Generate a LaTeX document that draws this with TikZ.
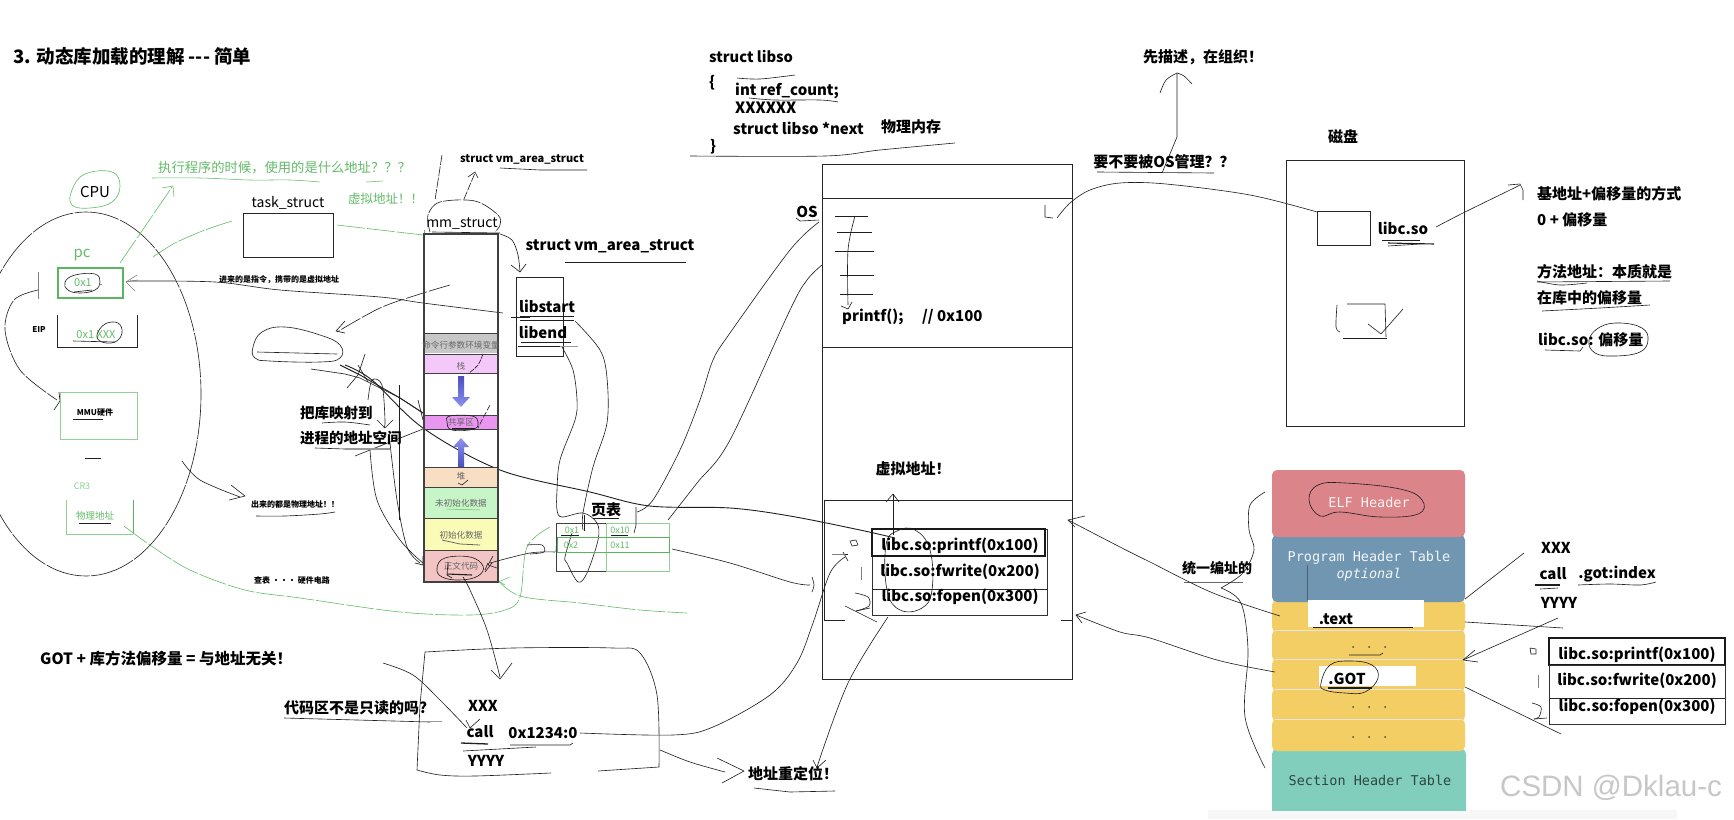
\documentclass[tikz,border=0pt]{standalone}
\usepackage{fontspec}
\setmainfont{Noto Sans CJK SC}
\newfontfamily\monofam{DejaVu Sans Mono}
\newfontfamily\wmfam{Liberation Sans}
\usetikzlibrary{calc}
\definecolor{inkgreen}{HTML}{63BB68}
\definecolor{boxgreen}{HTML}{5BB560}
\definecolor{palegreen}{HTML}{8FD093}
\definecolor{elfred}{HTML}{DB8489}
\definecolor{phtblue}{HTML}{7196B2}
\definecolor{secyel}{HTML}{F2CE65}
\definecolor{shtteal}{HTML}{82CEBD}
\definecolor{arrowdark}{HTML}{4A4EC0}
\definecolor{arrowlight}{HTML}{8C92EE}
\newcommand\sz[1]{\fontsize{#1}{#1}\selectfont}
% a freehand stroke through a list of points
\newcommand\ink[2][]{\draw[hand,#1] plot[smooth,tension=.55] coordinates {#2};}
% a closed freehand loop through a list of points
\newcommand\ring[2][]{\draw[hand,#1] plot[smooth cycle,tension=.7] coordinates {#2};}
% a straight polyline, for tips and short pen marks
\newcommand\pen[2][]{\draw[hand,line join=round,#1] plot coordinates {#2};}
\tikzset{
  hand/.style={line width=.62pt,black!88},
  greenhand/.style={line width=.6pt,inkgreen,dash pattern=on 28pt off 2pt},
  frameline/.style={line width=.9pt,black!85},
  blk/.style={inner sep=0,font=\bfseries\sz{15}},
  blkl/.style={blk,anchor=west},
  tiny/.style={inner sep=0,font=\bfseries\sz{8}},
  grn/.style={inner sep=0,text=inkgreen,font=\sz{13.3}},
  seglabel/.style={inner sep=0,text=black!60,font=\sz{8.6}},
  elfcell/.style={inner sep=0,font=\monofam\sz{13.5}},
  secblock/.style={fill=#1,rounded corners=5pt,draw=none},
}
\begin{document}
\begin{tikzpicture}[x=1pt,y=-1pt]
\useasboundingbox (0,0) rectangle (1734,819);
\fill[white] (0,0) rectangle (1734,819);
\fill[black!3] (1208,810) rectangle (1677,819);

%% ---- headings ----
\node[inner sep=0,anchor=west,font=\bfseries\sz{18.5}] (title) at (13,56) {3. 动态库加载的理解 -{}-{}- 简单};
\node[blkl,font=\bfseries\sz{15.5}] (gotnote) at (40,659) {GOT + 库方法偏移量 = 与地址无关！};

%% ---- CPU side ----
\draw[hand,dash pattern=on 45pt off 1.5pt] (86,394) ellipse [x radius=115,y radius=182];
\node[inner sep=0,font=\sz{15}] (cpu) at (95,192) {CPU};
\ring[inkgreen]{(72,190)(85,174)(112,172)(120,186)(112,202)(90,208)(72,205)}
\node[inner sep=0,text=inkgreen,font=\sz{15}] (pc) at (82,255) {pc};
\node[draw=boxgreen,line width=2.4pt,minimum width=65pt,minimum height=30pt,inner sep=0] (pcbox) at (90.5,283) {};
\node[inner sep=0,text=inkgreen,font=\sz{11}] (pcval) at (83,283) {0x1};
\ring{(65,282)(75,275)(95,274)(100,282)(95,290)(80,293)(68,290)}
\pen{(74,292)(92,290)}
\pen[black!40]{(100,284)(102,284)}
\pen[black!50]{(38,272)(38,299)}
\ink[dash pattern=on 26pt off 1.5pt]{(38,290)(14,300)(5,330)(20,370)(57,400)}
\pen{(59,392)(60,401)(54,410)}
\node[tiny] (eip) at (39,330) {EIP};
\draw[frameline] (57,315) -- (57,347) -- (137,347) -- (137,315);
\node[inner sep=0,text=inkgreen,font=\sz{11}] (eipval) at (96,335) {0x1 XXX};
\ring{(97,335)(105,324)(118,323)(122,333)(115,342)(102,342)}
\pen{(73,341)(115,342)}
\draw[palegreen,line width=1pt] (60,392) rectangle (137,439);
\node[tiny] (mmu) at (95,412) {MMU硬件};
\pen{(73,419)(103,419)}
\pen{(85,458)(101,458)}
\node[inner sep=0,text=palegreen,font=\sz{9}] (cr3) at (82,486) {CR3};
\draw[palegreen,line width=1pt] (66,500) -- (66,534) -- (133,534);
\draw[boxgreen,line width=.9pt] (133,534) -- (133,500);
\node[inner sep=0,text=inkgreen,font=\sz{9.5}] (phys) at (95,516) {物理地址};
\pen{(79,523)(111,523)}

% green notes and their strokes
\node[grn,anchor=west] (whichaddr) at (158,168) {执行程序的时候，使用的是什么地址？？？};
\node[grn,anchor=west,font=\sz{12.5}] (virtaddr) at (348,199) {虚拟地址！！};
\ink[inkgreen,line width=.55pt]{(152,178)(200,178)(250,180)(290,180)(320,182)}
\pen[inkgreen,line width=.55pt]{(366,182)(383,181)}
\pen[greenhand]{(120,263)(172,187)}
\pen[inkgreen,line width=.55pt]{(162,188)(173,186)(174,197)}
\ink[greenhand]{(153,257)(175,243)(205,230)(232,221)}
\ink[greenhand]{(337,225)(380,230)(423,235)}
\pen[inkgreen,line width=.55pt]{(424,230)(424,238)}
\ink[greenhand]{(124,526)(150,545)(190,570)(245,590)(300,598)(400,612)(470,615)(505,610)(520,597)(527,547)(550,527)}
\ink[greenhand]{(495,577)(520,596)(580,603)(640,610)(687,613)}
\pen[inkgreen,line width=.5pt]{(495,565)(497,580)(505,585)}
\pen[inkgreen,line width=.5pt]{(498,582)(510,577)}

% task_struct
\node[frameline,draw,minimum width=90pt,minimum height=44pt,inner sep=0] (task) at (288,235) {};
\node[inner sep=0,font=\sz{14}] (tasklabel) at (288,203) {task\_struct};

% pointer note
\node[tiny] (incoming) at (279,280) {进来的是指令，携带的是虚拟地址};
\ink{(130,281)(215,282)(280,290)(380,297)(423,303)(503,313)}
\pen{(530,317)(511,317)}
\pen[black!50]{(137,275)(126,282)(135,291)}
\pen[black!50]{(126,282)(138,280)}
\ink[dash pattern=on 22pt off 2pt]{(450,285)(420,294)(380,308)(337,332)}
\pen{(345,321)(336,331)(345,333)}

% small blob and converging pen strokes
\ring{(253,347)(262,332)(285,327)(320,335)(340,345)(340,358)(320,362)(270,361)(255,358)}
\pen{(257,352)(337,354)}
\ink[line width=.9pt]{(345,365)(372,380)(423,428)(500,470)(590,492)(650,506)(730,508)(790,516)(860,530)(895,538)}
\pen{(311,369)(345,374)(360,378)(400,398)(423,413)}
\pen[line width=.9pt]{(340,365)(360,375)(400,398)(423,413)}
\pen{(365,354)(358,375)(347,388)}
\pen{(358,365)(368,382)}
\ink{(418,400)(420,408)(423,420)}
\ink{(368,400)(372,380)(382,385)(385,420)(384,428)}
\pen{(377,420)(385,428)(393,420)}
\pen{(399,385)(399,520)}
\ink{(370,450)(377,500)(400,540)(423,563)}
\ink{(390,443)(397,500)(407,547)(420,563)}
\pen{(415,563)(423,565)(423,556)}
\pen{(355,456)(375,448)(423,429)}
\node[blkl,font=\bfseries\sz{14.5}] (maplib) at (300,413) {把库映射到};
\node[blkl,font=\bfseries\sz{14.5}] (mapspace) at (300,438) {进程的地址空间};
\ink{(322,423)(345,422)(370,425)}
\pen{(315,448)(345,449)}
\pen[black!40,line width=1.2pt]{(345,449)(390,449)}

%% ---- other small notes ----
\node[tiny] (allphys) at (295,504) {出来的都是物理地址！！};
\ink{(256,516)(285,516)(320,514)(335,512)}
\ink{(182,461)(200,480)(240,497)}
\pen{(231,485)(245,496)(229,500)}
\node[tiny] (lookup) at (292,580) {查表 ··· 硬件电路};

%% ---- process address space column ----
\foreach \ya/\yb/\tone in {333/353/black!22, 354/373/{rgb,255:red,245;green,200;blue,250}, 415/429/{rgb,255:red,232;green,150;blue,240}, 467/487/{rgb,255:red,248;green,223;blue,196}, 487/518/{rgb,255:red,200;green,245;blue,200}, 518/550/{rgb,255:red,251;green,251;blue,184}, 550/582/{rgb,255:red,242;green,196;blue,196}}{
  \fill[color=\tone] (424,\ya) rectangle (498,\yb);
}
\draw[black!75,line width=1.1pt] (424,234) rectangle (498,582);
\foreach \yy in {333,354,373,415,429,467,487,518,550}{\draw[black!75,line width=1pt] (424,\yy) -- (498,\yy);}
\node[seglabel] (seg1) at (461,345) {命令行参数环境变量};
\node[seglabel] (seg2) at (461,366) {栈};
\node[seglabel] (seg3) at (461,422) {共享区};
\node[seglabel] (seg4) at (461,476) {堆};
\node[seglabel] (seg5) at (461,503) {未初始化数据};
\node[seglabel] (seg6) at (461,535) {初始化数据};
\node[seglabel] (seg7) at (461,566) {正文代码};
\shade[top color=arrowdark,bottom color=arrowlight] (458,376) -- (464,376) -- (464,397) -- (470,397) -- (461,407) -- (452,397) -- (458,397) -- cycle;
\shade[top color=arrowlight,bottom color=arrowdark] (458,467) -- (464,467) -- (464,447) -- (469,447) -- (461,438) -- (453,447) -- (458,447) -- cycle;
% marks over the segments
\ink[dash pattern=on 5pt off 1pt]{(483,354)(478,365)(469,373)}
\ink[dash pattern=on 6pt off 2pt]{(490,405)(482,420)(478,428)}
\ring{(447,422)(450,416)(472,416)(478,422)(474,429)(452,430)}
\pen{(452,428)(475,428)}
\pen{(458,483)(462,485)(468,480)}
\pen[inkgreen,line width=.5pt]{(447,509)(480,510)}
\pen[black!60,line width=.8pt]{(442,540)(460,544)(480,545)}
\ring{(437,568)(445,558)(470,557)(483,566)(478,576)(460,580)(442,577)}
\pen[line width=1.1pt]{(447,574)(472,575)}
\pen{(448,562)(447,575)(452,578)}
\pen{(488,563)(485,570)}
\pen{(485,572)(492,563)}

% mm_struct
\node[inner sep=0,font=\sz{14}] (mm) at (462,224) {mm\_struct};
\ink[dash pattern=on 18pt off 1.5pt]{(430,232)(428,215)(440,202)(475,201)(498,215)(500,225)(495,232)}
\pen{(432,232)(500,233)}
\pen[dash pattern=on 10pt off 1.5pt]{(442,155)(435,200)}
\pen[dash pattern=on 8pt off 1.5pt]{(464,199)(475,173)}
\pen{(468,177)(475,172)(478,178)}
\node[inner sep=0,font=\bfseries\sz{11}] (vmsmall) at (522,159) {struct vm\_area\_struct};
\pen{(500,168)(540,170)(587,170)}
\node[blk] (vmbig) at (610,246) {struct vm\_area\_struct};
\pen{(565,262)(686,262)}
\ink{(500,234)(512,240)(518,255)(520,272)}
\pen{(511,265)(520,272)(526,264)}

% libstart / libend
\node[frameline,draw,minimum width=47pt,minimum height=79pt,inner sep=0] (vmbox) at (539.5,316.5) {};
\node[blk] (libstart) at (547,306) {libstart};
\node[blk] (libend) at (543,332) {libend};
\pen{(520,316)(574,316)}
\pen{(520,320)(574,320)}
\pen{(521,342)(571,342)}
\pen{(518,346)(560,346)}
\pen[black!40,line width=1pt]{(560,346)(578,346)}
\ink{(575,321)(600,350)(607,378)(607,423)(593,467)(583,513)(583,530)}
\ink{(562,347)(573,370)(577,400)(575,420)(560,460)(557,490)(557,510)(562,517)(583,513)(597,523)(598,540)(587,573)(578,582)(567,563)(565,557)(572,533)}

%% ---- page table ----
\node[inner sep=0,font=\bfseries\sz{15}] (pagetable) at (606,510) {页表};
\pen{(593,518)(619,518)}
\draw[palegreen,line width=.9pt] (606,523) -- (669,523) -- (669,571) -- (606,571);
\draw[black!75,line width=.8pt] (606,523) -- (556,523) -- (556,571) -- (606,571);
\draw[palegreen,line width=.9pt] (606,523) -- (606,571);
\draw[boxgreen,line width=.9pt] (557,537) rectangle (669,552);
\draw[black!70,line width=.8pt] (556,552) -- (557,537);
\node[inner sep=0,text=inkgreen,font=\sz{9}] (pt1) at (572,530) {0x1};
\node[inner sep=0,text=inkgreen,font=\sz{9}] (pt2) at (620,530) {0x10};
\node[inner sep=0,text=inkgreen,font=\sz{9}] (pt3) at (571,545) {0x2};
\node[inner sep=0,text=inkgreen,font=\sz{9}] (pt4) at (620,545) {0x11};
\pen{(561,535)(579,535)}
\pen{(611,535)(628,535)}
\pen{(584,515)(584,531)}
\pen{(636,507)(636,525)(634,533)}
\ink{(637,512)(653,500)(680,450)(700,400)(713,360)(730,333)(790,250)(819,222)}
\ink{(668,520)(697,483)(730,440)(790,310)(807,280)(822,265)}
\ink{(672,549)(730,563)(790,582)(810,585)}
\ink{(812,577)(814,585)(812,592)}
\ink{(555,552)(530,553)(490,563)}
\pen{(493,556)(488,565)(497,568)}
\ink{(527,545)(542,545)(544,552)(530,554)}

% from the code segment down to the call site
\ink{(463,577)(470,590)(487,630)(500,677)}
\pen{(491,670)(500,679)(512,663)}

%% ---- code snippet ----
\ink{(425,652)(513,648)(613,648)(640,653)(657,695)(659,767)}
\pen{(659,767)(598,771)}
\pen{(425,652)(420,705)(417,770)}
\ink{(417,770)(440,775)(475,776)(551,773)}
\node[blk] (xxx) at (483,706) {XXX};
\node[blk] (callA) at (480,732) {call};
\node[blk] (addr) at (543,733) {0x1234:0};
\node[blk] (yyyy) at (486,761) {YYYY};
\pen[line width=1.3pt]{(461,743)(488,744)}
\pen{(463,751)(536,747)}
\pen{(510,745)(570,745)(573,743)}
\node[blkl,font=\bfseries\sz{15}] (readonly) at (284,708) {代码区不是只读的吗?};
\pen{(284,718)(430,722)}
\pen[black!40]{(420,721)(442,721)}
\ink{(383,663)(413,675)(440,700)(467,728)}
\pen{(466,720)(470,728)(480,719)}
\ink{(580,733)(673,735)(713,727)(770,695)(797,663)(813,623)(830,573)(845,557)}
\pen{(832,554)(848,554)}
\pen{(843,552)(848,561)}
\node[blk] (reloc) at (793,774) {地址重定位！};
\pen{(754,788)(790,792)(835,791)}
\ink{(660,750)(690,762)(725,772)}
\pen{(717,758)(744,771)(722,783)}
\ink{(888,617)(848,683)(817,767)}
\pen{(813,760)(817,768)(826,760)}

%% ---- libso description ----
\node[blkl,font=\bfseries\sz{14.7}] (libso) at (709,56) {struct libso};
\node[blkl] (lbrace) at (709,83) {\{};
\node[blkl] (refc) at (735,91) {int ref\_count;};
\node[blkl,font=\bfseries\sz{15.5}] (xs) at (735,108) {XXXXXX};
\node[blkl] (nextp) at (733,128) {struct libso *next};
\node[blk] (physmem) at (911,127) {物理内存};
\node[blkl] (rbrace) at (710,147) {\}};
\ink{(737,78)(760,79)(795,75)}
\ink{(749,98)(775,100)(820,100)(838,102)}
\ink{(690,156)(825,156)(880,150)(955,143)}

%% ---- physical memory frame ----
\draw[frameline] (822,164) rectangle (1072,679);
\draw[frameline] (822,198) -- (1072,198);
\draw[frameline] (822,347) -- (1072,347);
\draw[frameline] (824,620) -- (824,500) -- (1072,500);
\draw[frameline] (824,620) -- (845,620);
\draw[frameline] (1061,620) -- (1072,620);
\node[blk] (os) at (807,212) {OS};
\pen{(796,218)(800,221)(819,220)}
\foreach \xa/\xb/\yy in {835/868/216,837/872/232,835/874/251,840/874/275,840/873/294}{\draw[hand] (\xa,\yy) -- (\xb,\yy);}
\ink{(855,216)(848,250)(848,305)}
\pen{(841,306)(848,309)(852,302)}
\node[blkl] (printfcall) at (842,317) {printf();\hspace{1em} // 0x100};
\node[blk] (vlabel) at (913,469) {虚拟地址！};
\pen{(893,535)(893,494)}
\pen{(886,502)(893,494)(899,502)}

% library method table in memory
\draw[black!80,line width=1pt] (872,529) rectangle (1047,615);
\draw[black!90,line width=1.2pt] (872,529) rectangle (1045,556);
\draw[black!85,line width=.8pt] (872,589) -- (1047,589);
\node[blk] (m1) at (960,546) {libc.so:printf(0x100)};
\node[blk] (m2) at (960,572) {libc.so:fwrite(0x200)};
\node[blk] (m3) at (960,597) {libc.so:fopen(0x300)};
\ring{(886,545)(897,531)(915,530)(930,550)(932,590)(922,608)(900,610)(887,590)}
\pen{(850,541)(856,540)(858,545)(852,546)(850,541)}
\pen[black!50]{(832,554)(845,554)}
\pen[black!50]{(861,567)(861,580)}
\ink{(855,593)(868,597)(869,606)(856,611)}
\pen{(845,606)(877,622)}
\pen{(856,611)(870,608)}

%% ---- OS management note ----
\node[blk] (orgnote) at (1203,57) {先描述，在组织！};
\pen{(1177,73)(1177,137)(1162,173)}
\ink{(1160,93)(1166,80)(1177,73)}
\ink{(1177,73)(1184,76)(1192,84)}
\node[blk] (manage) at (1164,162) {要不要被OS管理？？};
\pen{(1097,172)(1214,173)}
\ink{(1057,218)(1070,203)(1090,190)(1120,183)(1166,184)(1250,195)(1317,212)}
\pen{(1045,205)(1045,217)(1053,218)}

%% ---- disk ----
\node[blk] (disklabel) at (1343,137) {磁盘};
\node[frameline,draw,minimum width=178pt,minimum height=266pt,inner sep=0] (disk) at (1375,293) {};
\node[frameline,draw,minimum width=53pt,minimum height=34pt,inner sep=0] (libfile) at (1343.5,228) {};
\node[blk] (libcso) at (1403,228) {libc.so};
\pen{(1382,240)(1420,240)}
\pen[line width=1.1pt]{(1388,243)(1434,244)}
\pen{(1388,246)(1420,244)}
\ink{(1436,227)(1463,213)(1510,190)(1520,185)}
\pen{(1508,185)(1520,184)(1523,190)(1523,200)}
\ink{(1337,305)(1336,327)(1340,332)}
\pen{(1347,304)(1385,304)(1386,337)}
\pen{(1343,338)(1387,338)}
\pen{(1368,324)(1381,334)(1403,309)}

% address notes
\node[blkl] (base) at (1537,194) {基地址+偏移量的方式};
\node[blkl] (zero) at (1537,220) {0 + 偏移量};
\node[blkl] (method) at (1537,272) {方法地址：本质就是};
\node[blkl] (inlib) at (1537,298) {在库中的偏移量};
\node[blkl] (offs) at (1538,340) {libc.so: 偏移量};
\ink{(1537,281)(1560,285)(1587,283)}
\pen{(1537,282)(1670,281)}
\ink{(1542,311)(1600,308)(1650,305)}
\pen{(1545,350)(1580,351)(1583,347)}
\ring{(1589,340)(1600,327)(1620,323)(1642,328)(1648,340)(1640,352)(1615,356)(1595,353)}

%% ---- ELF layout ----
\fill[secblock=shtteal] (1272,749) rectangle (1466,815);
\fill[white] (1272,811) rectangle (1466,820);
\fill[black!3] (1272,811) rectangle (1466,819);
\fill[secblock=secyel] (1272,719) rectangle (1465,751);
\fill[secblock=secyel] (1272,689) rectangle (1465,721);
\fill[secblock=secyel] (1272,659) rectangle (1465,691);
\fill[secblock=secyel] (1272,630) rectangle (1465,661);
\fill[secblock=secyel] (1272,600) rectangle (1465,632);
\fill[secblock=phtblue] (1272,535) rectangle (1465,602);
\fill[secblock=elfred] (1272,470) rectangle (1465,537);
\foreach \yy in {630,659,689,719}{\draw[black!10,line width=.6pt] (1275,\yy) -- (1462,\yy);}
\node[elfcell,text=white!90!elfred] (elf) at (1369,502) {ELF Header};
\node[elfcell,text=white!90!phtblue] (pht) at (1369,558) {Program Header Table};
\node[elfcell,text=white!90!phtblue,font=\monofam\itshape\sz{13.5}] (phtopt) at (1369,575) {optional};
\node[elfcell,text=black!65!shtteal] (sht) at (1370,780) {Section Header Table};
\foreach \yy in {647,707,737}{
  \foreach \xx in {1353,1369,1385}{\fill[black!70] (\xx,\yy) circle (1pt);}
}
\pen{(1349,655)(1380,655)(1383,653)}
\fill[white] (1308,600) rectangle (1424,627);
\fill[white] (1319,666) rectangle (1416,686);
\pen[black!35!phtblue]{(1307,565)(1307,600)}
\node[blk] (textsec) at (1336,619) {.text};
\pen{(1313,627)(1413,627)}
\node[blk] (gotsec) at (1347,679) {.GOT};
\ring{(1321,683)(1330,665)(1350,661)(1372,665)(1378,678)(1365,692)(1345,693)(1325,690)}
\pen[line width=1.2pt]{(1328,688)(1372,688)}
\ring{(1309,500)(1318,485)(1345,483)(1400,489)(1422,500)(1418,514)(1380,517)(1340,512)(1320,516)}
\node[inner sep=0,font=\bfseries\sz{14}] (unified) at (1217,568) {统一编址的};
\pen[black!60]{(1184,582)(1243,582)}
\ink{(1265,492)(1250,505)(1249,530)(1254,550)(1243,573)(1221,588)}
\ink{(1221,588)(1241,603)(1248,650)(1245,717)(1265,768)}

% links from the sections to the memory frame
\ink{(1280,616)(1213,593)(1150,562)(1120,547)(1068,520)}
\pen{(1085,516)(1068,520)(1075,527)}
\ink{(1275,672)(1217,660)(1150,638)(1120,632)(1076,615)}
\pen{(1086,612)(1076,615)(1082,623)}

%% ---- right-hand call and table ----
\node[blk] (xxxB) at (1556,548) {XXX};
\node[blk] (callB) at (1553,574) {call};
\node[blk] (gotidx) at (1617,574) {.got:index};
\node[blk] (yyyyB) at (1559,603) {YYYY};
\pen[line width=1.1pt]{(1535,585)(1560,585)}
\pen{(1540,589)(1558,588)}
\ink{(1578,585)(1610,584)(1640,585)(1656,582)}
\pen{(1465,599)(1524,553)}
\pen{(1465,622)(1563,628)}
\pen{(1558,618)(1463,660)}
\pen{(1475,650)(1463,660)(1478,662)}
\pen{(1465,687)(1561,734)}
\draw[black!90,line width=1.2pt] (1549,638) rectangle (1725,665);
\draw[black!80,line width=.9pt] (1549,665) rectangle (1725,724);
\draw[black!85,line width=.8pt] (1549,698) -- (1725,698);
\node[blk] (n1) at (1637,655) {libc.so:printf(0x100)};
\node[blk] (n2) at (1637,681) {libc.so:fwrite(0x200)};
\node[blk] (n3) at (1637,707) {libc.so:fopen(0x300)};
\pen{(1530,648)(1536,649)(1536,654)(1531,654)(1530,648)}
\pen[black!50]{(1538,675)(1538,688)}
\ink{(1532,703)(1541,707)(1539,717)(1534,719)}
\pen{(1534,719)(1547,718)}

%% ---- corner mark ----
\node[inner sep=0,anchor=west,text=black!22,font=\wmfam\sz{29.5}] (mark) at (1500,788) {CSDN @Dklau-c};
\end{tikzpicture}
\end{document}
